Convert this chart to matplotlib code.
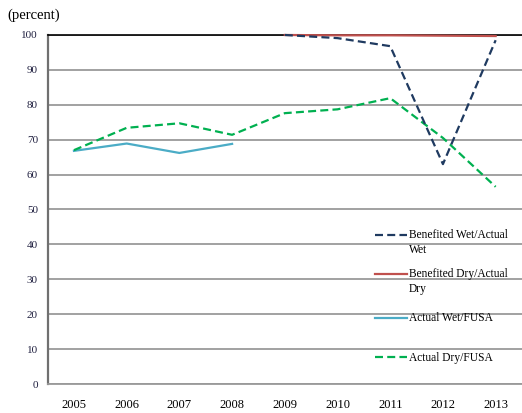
import matplotlib
matplotlib.use("Agg")
import matplotlib.pyplot as plt
from matplotlib.lines import Line2D
import numpy as np

years = ["2005", "2006", "2007", "2008", "2009", "2010", "2011", "2012", "2013"]
benefited_wet = [np.nan, np.nan, np.nan, np.nan, 100.0, 99.1, 96.8, 63.0, 98.5]
benefited_dry = [np.nan, np.nan, np.nan, np.nan, 100.0, 99.9, 99.9, 99.8, 99.7]
actual_wet = [66.8, 68.9, 66.2, 68.8, np.nan, np.nan, np.nan, np.nan, np.nan]
actual_dry = [67.0, 73.4, 74.7, 71.4, 77.6, 78.7, 81.9, 70.5, 56.5]
labels = ["Benefited Wet/Actual\nWet", "Benefited Dry/Actual\nDry", "Actual Wet/FUSA", "Actual Dry/FUSA"]
yticks = [0, 10, 20, 30, 40, 50, 60, 70, 80, 90, 100]

colors = ["#1F3A60", "#C0504D", "#4BACC6", "#00B050"]
dash = (0, (3.6, 1.9))
styles = [dash, "-", "-", dash]

plt.rcParams["font.family"] = ["Liberation Serif", "DejaVu Serif"]

fig = plt.figure(figsize=(5.22, 4.13), dpi=100)
ax = fig.add_axes([0.0912, 0.0702, 0.9088, 0.8451])
ax.set_xlim(-0.5, 8.5)
ax.set_ylim(0, 100)

xs = np.arange(len(years))
series = [benefited_wet, benefited_dry, actual_wet, actual_dry]
zord = [5, 4, 3, 3]
for i in [2, 3, 1, 0]:
    ax.plot(xs, series[i], color=colors[i], linewidth=1.6, linestyle=styles[i],
            dash_capstyle="butt", solid_joinstyle="round", zorder=zord[i], clip_on=False)

ax.set_yticks(yticks)
ax.set_xticks(xs)
ax.set_xticklabels(years)
ax.tick_params(axis="both", length=0, colors="#000000")
ax.tick_params(axis="y", pad=7, labelsize=8)
ax.tick_params(axis="x", pad=11, labelsize=9)
for t in ax.get_yticklabels():
    t.set_color("#202040")
ax.grid(axis="y", color="#9A9A9A", linewidth=1.3, zorder=1)
ax.set_axisbelow(True)
ax.spines["right"].set_visible(False)
ax.spines["top"].set_color("#000000")
ax.spines["top"].set_linewidth(1.2)
ax.spines["left"].set_color("#707070")
ax.spines["left"].set_linewidth(1.6)
ax.spines["bottom"].set_color("#9A9A9A")
ax.spines["bottom"].set_linewidth(1.3)

# legend (manual layout)
lx0, lx1, tx = 0.690, 0.757, 0.761
ly = [0.427, 0.315, 0.189, 0.077]
for i in range(4):
    ax.add_line(Line2D([lx0, lx1], [ly[i], ly[i]], transform=ax.transAxes,
                       color=colors[i], linewidth=1.6, linestyle=styles[i], zorder=6))
    ax.text(tx, ly[i] + 0.016, labels[i], transform=ax.transAxes, fontsize=8.3,
            va="top", ha="left", linespacing=1.3, zorder=6)

fig.text(0.015, 0.963, "(percent)", fontsize=10.5, va="center", ha="left")

fig.savefig("out.png", dpi=100)
